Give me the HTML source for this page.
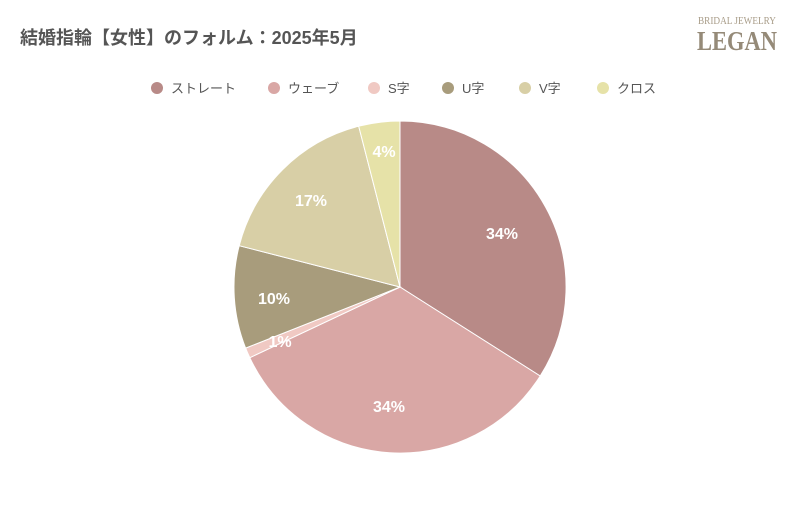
<!DOCTYPE html><html><head><meta charset="utf-8"><style>
body{margin:0;background:#fff;width:800px;height:500px;overflow:hidden;font-family:"Liberation Sans","Noto Sans CJK JP",sans-serif}
</style></head><body>
<svg width="800" height="500" xmlns="http://www.w3.org/2000/svg" font-family="Liberation Sans, Noto Sans CJK JP, sans-serif">
<text x="20" y="44" font-size="18" font-weight="bold" fill="#555">結婚指輪【女性】のフォルム：2025年5月</text>
<text x="698" y="24" font-size="10" fill="#a89c88" font-family="Liberation Serif, serif" textLength="78" lengthAdjust="spacingAndGlyphs">BRIDAL JEWELRY</text>
<text x="697" y="50" font-size="27" fill="#958a78" font-family="Liberation Serif, serif" font-weight="bold" textLength="80" lengthAdjust="spacingAndGlyphs">LEGAN</text>
<g font-size="13" fill="#555">
<circle cx="157" cy="88" r="6" fill="#b88a87"/><text x="171" y="93">ストレート</text>
<circle cx="274" cy="88" r="6" fill="#d9a7a5"/><text x="288" y="93">ウェーブ</text>
<circle cx="374" cy="88" r="6" fill="#f0c9c3"/><text x="388" y="93">S字</text>
<circle cx="448" cy="88" r="6" fill="#a89c7c"/><text x="462" y="93">U字</text>
<circle cx="525" cy="88" r="6" fill="#d8cfa6"/><text x="539" y="93">V字</text>
<circle cx="603" cy="88" r="6" fill="#e6e2a8"/><text x="617" y="93">クロス</text>
</g>
<g stroke="#fff" stroke-width="1">
<path d="M400 287 L400 121 A166 166 0 0 1 540.2 376 Z" fill="#b88a87"/>
<path d="M400 287 L540.2 376 A166 166 0 0 1 249.8 357.7 Z" fill="#d9a7a5"/>
<path d="M400 287 L249.8 357.7 A166 166 0 0 1 245.6 348.1 Z" fill="#f0c9c3"/>
<path d="M400 287 L245.6 348.1 A166 166 0 0 1 239.2 245.7 Z" fill="#a89c7c"/>
<path d="M400 287 L239.2 245.7 A166 166 0 0 1 358.7 126.2 Z" fill="#d8cfa6"/>
<path d="M400 287 L358.7 126.2 A166 166 0 0 1 400 121 Z" fill="#e6e2a8"/>
</g>
<g font-size="16" font-weight="bold" fill="#fff" text-anchor="middle">
<text x="502" y="239">34%</text>
<text x="389" y="412">34%</text>
<text x="280" y="347">1%</text>
<text x="274" y="304">10%</text>
<text x="311" y="206">17%</text>
<text x="384" y="157">4%</text>
</g>
</svg>
</body></html>
